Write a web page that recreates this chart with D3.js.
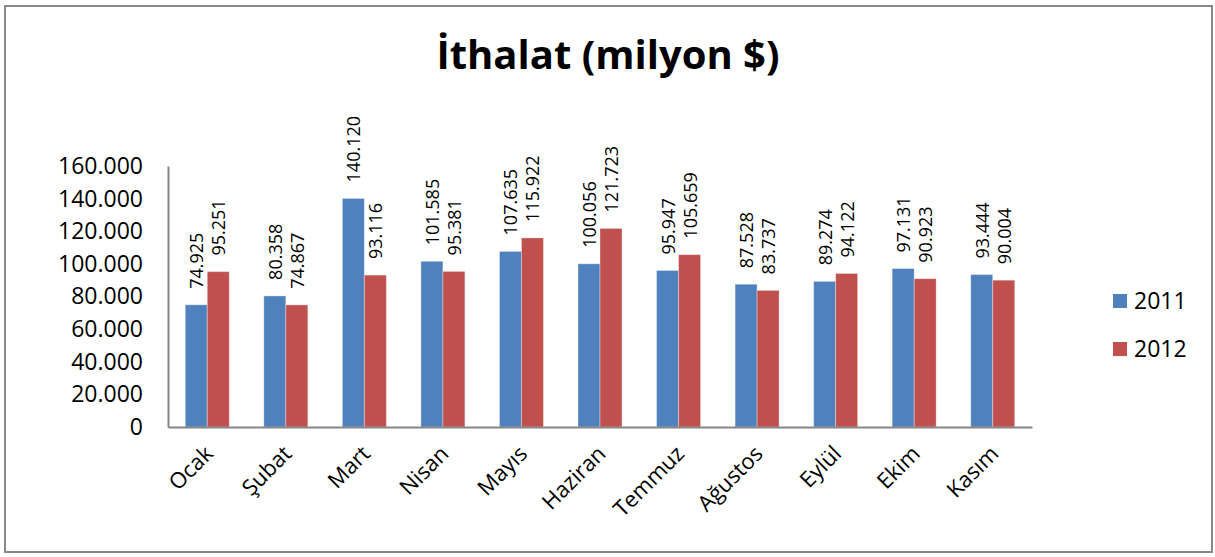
<!DOCTYPE html>
<html>
<head>
<meta charset="utf-8">
<script src="https://cdn.jsdelivr.net/npm/d3@7"></script>
<style>
  body { margin: 0; background: #fff; }
  text { font-family: "Open Sans", sans-serif; fill: #000; }
</style>
</head>
<body>
<svg id="chart" width="1215" height="557"></svg>
<script>
var months = ["Ocak", "Şubat", "Mart", "Nisan", "Mayıs", "Haziran", "Temmuz", "Ağustos", "Eylül", "Ekim", "Kasım"];
var years = ["2011", "2012"];
var values2011 = [74925, 80358, 140120, 101585, 107635, 100056, 95947, 87528, 89274, 97131, 93444];
var values2012 = [95251, 74867, 93116, 95381, 115922, 121723, 105659, 83737, 94122, 90923, 90004];
var yTicks = [0, 20000, 40000, 60000, 80000, 100000, 120000, 140000, 160000];
var colors = ["#4F81BD", "#C0504D"];

var svg = d3.select("#chart");

// outer frame
svg.append("rect")
   .attr("x", 5).attr("y", 6)
   .attr("width", 1207).attr("height", 546)
   .attr("fill", "none")
   .attr("stroke", "#888")
   .attr("stroke-width", 2);

svg.append("text")
   .attr("x", 608).attr("y", 69)
   .attr("text-anchor", "middle")
   .style("font-size", "40px")
   .style("font-weight", "bold")
   .text("İthalat (milyon $)");

var plotLeft = 168, plotRight = 1032, plotTop = 166, plotBottom = 427;

var tr = d3.formatLocale({decimal: ",", thousands: ".", grouping: [3], currency: ["", ""]});
var fmt = tr.format(",d");

var x = d3.scaleBand().domain(months).range([plotLeft, plotRight]).paddingInner(0.44).paddingOuter(0.22);
var x1 = d3.scaleBand().domain(years).range([0, x.bandwidth()]);
var y = d3.scaleLinear().domain([0, 160000]).range([plotBottom, plotTop]);

var data = months.map(function(m, i) {
  return {month: m, vals: [values2011[i], values2012[i]]};
});

var groups = svg.selectAll(".grp")
  .data(data)
  .enter().append("g")
  .attr("class", "grp")
  .attr("transform", function(d) { return "translate(" + x(d.month) + ",0)"; });

groups.selectAll("rect")
  .data(function(d) { return d.vals.map(function(v, j) { return {year: years[j], v: v, j: j}; }); })
  .enter().append("rect")
  .attr("x", function(d) { return x1(d.year); })
  .attr("y", function(d) { return y(d.v); })
  .attr("width", x1.bandwidth())
  .attr("height", function(d) { return y(0) - y(d.v); })
  .attr("fill", function(d) { return colors[d.j]; })
  .attr("stroke", "rgba(255,255,255,0.35)")
  .attr("stroke-width", 1);

// rotated value labels
groups.selectAll(".lbl")
  .data(function(d) { return d.vals.map(function(v, j) { return {year: years[j], v: v}; }); })
  .enter().append("text")
  .attr("class", "lbl")
  .attr("transform", function(d) {
    return "translate(" + (x1(d.year) + x1.bandwidth() / 2 + 7) + "," + (y(d.v) - 16) + ") rotate(-90)";
  })
  .style("font-size", "18px")
  .text(function(d) { return fmt(d.v); });

// y axis
var yAxis = d3.axisLeft(y).tickValues(yTicks).tickSize(0).tickPadding(25).tickFormat(fmt);
var yg = svg.append("g").attr("transform", "translate(" + plotLeft + ",0)").call(yAxis);
yg.select(".domain").attr("stroke", "#868686").attr("stroke-width", 2);
yg.selectAll("text").style("font-size", "23px").style("font-family", "'Open Sans', sans-serif");

// x axis
var xAxis = d3.axisBottom(x).tickSize(0).tickFormat(function(d) { return d; });
var xg = svg.append("g").attr("transform", "translate(0," + plotBottom + ")").call(xAxis);
xg.select(".domain").attr("stroke", "#868686").attr("stroke-width", 2);
xg.selectAll("text")
  .style("font-size", "22px")
  .style("font-family", "'Open Sans', sans-serif")
  .attr("text-anchor", "end")
  .attr("dy", 0)
  .attr("transform", "translate(5,26) rotate(-45)");

// legend
var legend = svg.selectAll(".leg")
  .data(years)
  .enter().append("g")
  .attr("class", "leg")
  .attr("transform", function(d, i) { return "translate(1113," + (294 + i * 48) + ")"; });
legend.append("rect").attr("width", 14).attr("height", 14)
  .attr("fill", function(d, i) { return colors[i]; });
legend.append("text").attr("x", 21).attr("y", 15)
  .style("font-size", "23px")
  .text(function(d) { return d; });
</script>
</body>
</html>
